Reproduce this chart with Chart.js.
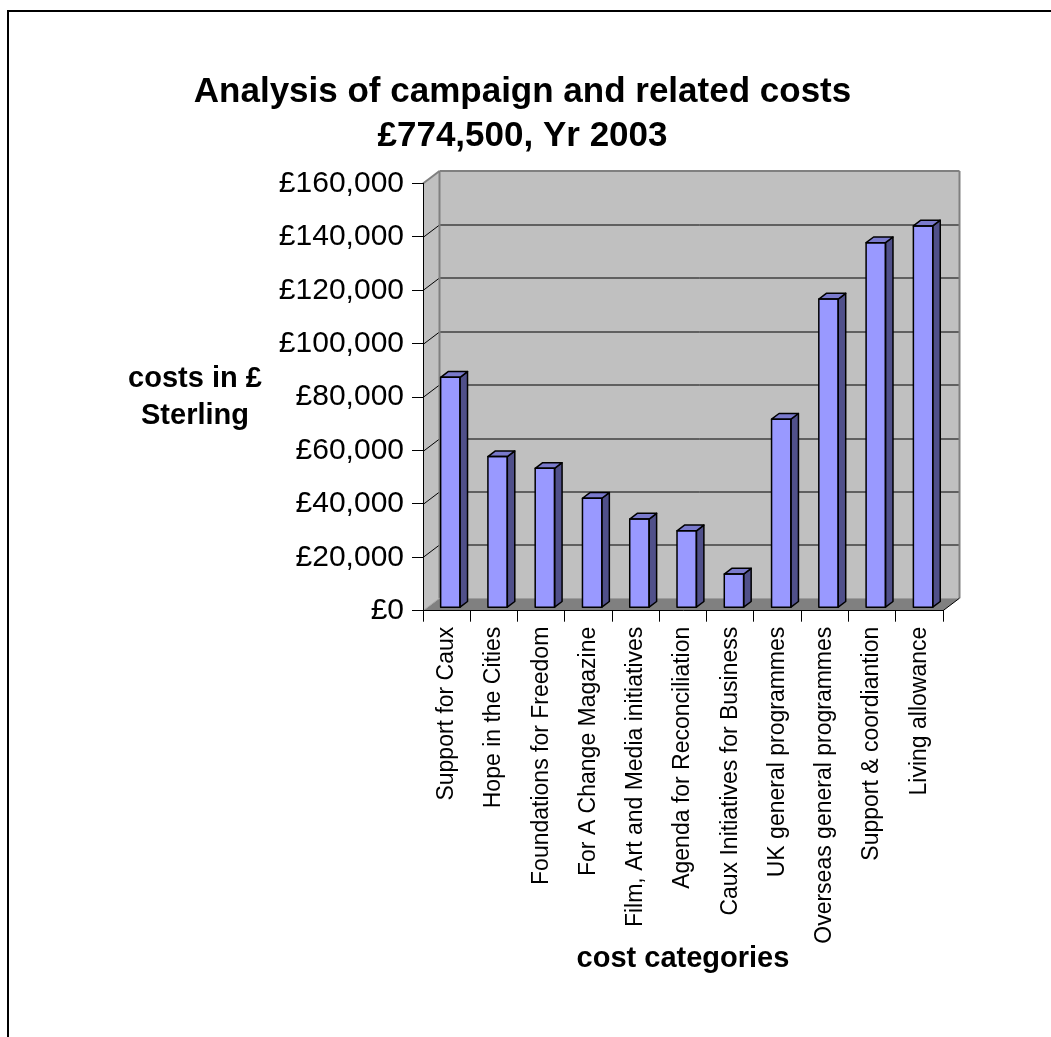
<!DOCTYPE html>
<html>
<head>
<meta charset="utf-8">
<script src="https://cdn.jsdelivr.net/npm/chart.js@4.4.0/dist/chart.umd.min.js"></script>
<style>
  html, body { margin: 0; padding: 0; background: #fff; }
</style>
</head>
<body>
<canvas id="grafico" width="1051" height="1037"></canvas>
<script>
// Data
const categories = [
  'Support for Caux',
  'Hope in the Cities',
  'Foundations for Freedom',
  'For A Change Magazine',
  'Film, Art and Media initiatives',
  'Agenda for Reconciliation',
  'Caux Initiatives for Business',
  'UK general programmes',
  'Overseas general programmes',
  'Support & coordiantion',
  'Living allowance'
];
const costs = [86300, 56600, 52200, 41000, 33200, 28800, 12600, 70600, 115600, 136700, 143000];
const yTickLabels = ['£0', '£20,000', '£40,000', '£60,000', '£80,000', '£100,000', '£120,000', '£140,000', '£160,000'];
const titleLines = ['Analysis of campaign and related costs', '£774,500, Yr 2003'];
const yTitleLines = ['costs in £', 'Sterling'];
const xTitle = 'cost categories';

const FONT = '"Liberation Sans", Arial, sans-serif';

// fake 3D: depth of the walls and of the columns
const DEPTH_X = 16.5, DEPTH_Y = -12.5;
const BAR_SHIFT_X = 3.7, BAR_SHIFT_Y = -3;
const BAR_DX = 7.5, BAR_DY = -5.7;

function poly(ctx, pts, fill, stroke, lw) {
  ctx.beginPath();
  ctx.moveTo(pts[0][0], pts[0][1]);
  for (let i = 1; i < pts.length; i++) ctx.lineTo(pts[i][0], pts[i][1]);
  ctx.closePath();
  if (fill) { ctx.fillStyle = fill; ctx.fill(); }
  if (stroke) { ctx.strokeStyle = stroke; ctx.lineWidth = lw || 1; ctx.stroke(); }
}

function line(ctx, x1, y1, x2, y2, color, lw) {
  ctx.beginPath();
  ctx.moveTo(x1, y1);
  ctx.lineTo(x2, y2);
  ctx.strokeStyle = color;
  ctx.lineWidth = lw || 1;
  ctx.stroke();
}

// walls, floor and back gridlines
const walls3d = {
  id: 'walls3d',
  beforeDraw(chart) {
    const ctx = chart.ctx;
    const { left: L, right: R, top: T, bottom: B } = chart.chartArea;
    const ys = chart.scales.y;
    ctx.save();

    // outer frame (only top and left are inside the picture)
    line(ctx, 8, 11, 1051, 11, '#000', 2);
    line(ctx, 8, 10, 8, 1037, '#000', 2);

    // side wall
    poly(ctx, [[L, B], [L, T], [L + DEPTH_X, T + DEPTH_Y], [L + DEPTH_X, B + DEPTH_Y]], '#c0c0c0');
    // back wall
    poly(ctx, [[L + DEPTH_X, T + DEPTH_Y], [R + DEPTH_X, T + DEPTH_Y], [R + DEPTH_X, B + DEPTH_Y], [L + DEPTH_X, B + DEPTH_Y]], '#c0c0c0');
    // floor
    poly(ctx, [[L, B], [R, B], [R + DEPTH_X, B + DEPTH_Y], [L + DEPTH_X, B + DEPTH_Y]], '#808080');

    // gridlines on the back wall and their run along the side wall
    ys.ticks.forEach(t => {
      if (t.value <= 0 || t.value >= ys.max) return;
      const y = Math.round(ys.getPixelForValue(t.value)) + 0.5;
      line(ctx, L + DEPTH_X, y + DEPTH_Y, R + DEPTH_X, y + DEPTH_Y, '#000', 1);
      line(ctx, L, y, L + DEPTH_X, y + DEPTH_Y, '#000', 1);
    });

    // wall edges
    line(ctx, L, T, L + DEPTH_X, T + DEPTH_Y, '#808080', 2);
    line(ctx, L + DEPTH_X, T + DEPTH_Y, R + DEPTH_X, T + DEPTH_Y, '#808080', 2);
    line(ctx, L + DEPTH_X, T + DEPTH_Y, L + DEPTH_X, B + DEPTH_Y, '#808080', 2);
    line(ctx, R + DEPTH_X, T + DEPTH_Y, R + DEPTH_X, B + DEPTH_Y, '#808080', 2);
    line(ctx, L, B, L + DEPTH_X, B + DEPTH_Y, '#a8a8a8', 1);
    line(ctx, R, B, R + DEPTH_X, B + DEPTH_Y, '#000', 1);
    ctx.restore();
  },
  beforeDatasetsDraw(chart) {
    chart.ctx.save();
    chart.ctx.translate(BAR_SHIFT_X, BAR_SHIFT_Y);
  },
  afterDatasetsDraw(chart) {
    const ctx = chart.ctx;
    ctx.restore();
    ctx.save();
    ctx.lineJoin = 'round';
    chart.getDatasetMeta(0).data.forEach(bar => {
      const { x, y, base, width } = bar.getProps(['x', 'y', 'base', 'width'], true);
      const l = x - width / 2 + BAR_SHIFT_X, r = x + width / 2 + BAR_SHIFT_X;
      const t = y + BAR_SHIFT_Y, b = base + BAR_SHIFT_Y;
      poly(ctx, [[r, b], [r + BAR_DX, b + BAR_DY], [r + BAR_DX, t + BAR_DY], [r, t]], '#50508a', '#000', 1.5);
      poly(ctx, [[l, t], [l + BAR_DX, t + BAR_DY], [r + BAR_DX, t + BAR_DY], [r, t]], '#7a7acc', '#000', 1.5);
      poly(ctx, [[l, b], [r, b], [r, t], [l, t]], null, '#000', 1.5);
    });
    ctx.restore();
  },
  afterDraw(chart) {
    const ctx = chart.ctx;
    ctx.save();
    ctx.fillStyle = '#000';
    ctx.textAlign = 'center';
    ctx.textBaseline = 'alphabetic';
    ctx.font = 'bold 35px ' + FONT;
    ctx.fillText(titleLines[0], 522.5, 102);
    ctx.fillText(titleLines[1], 522.5, 146);
    ctx.font = 'bold 29px ' + FONT;
    ctx.fillText(yTitleLines[0], 195, 387);
    ctx.fillText(yTitleLines[1], 195, 424);
    ctx.fillText(xTitle, 683, 967);
    ctx.restore();
  }
};

const ctx = document.getElementById('grafico').getContext('2d');
const chart = new Chart(ctx, {
  type: 'bar',
  data: {
    labels: categories,
    datasets: [{
      data: costs,
      backgroundColor: '#9999ff',
      borderColor: '#000',
      borderWidth: 0,
      barPercentage: 0.41,
      categoryPercentage: 1,
      clip: false
    }]
  },
  options: {
    responsive: false,
    animation: false,
    devicePixelRatio: 1,
    layout: { padding: { top: 183.5, left: 0, right: 108, bottom: 0 } },
    plugins: {
      legend: { display: false },
      tooltip: { enabled: false }
    },
    scales: {
      x: {
        grid: { drawOnChartArea: false, drawTicks: true, tickLength: 11, color: '#000', offset: true },
        border: { display: true, color: '#000', width: 1 },
        ticks: {
          minRotation: 90, maxRotation: 90, autoSkip: false, padding: 5,
          color: '#000', font: { family: FONT, size: 23 }
        },
        afterFit: s => { s.height = 1037 - 610.7; }
      },
      y: {
        min: 0,
        max: 160000,
        grid: { drawOnChartArea: false, drawTicks: true, tickLength: 11, color: '#000' },
        border: { display: true, color: '#000', width: 1 },
        ticks: {
          stepSize: 20000, padding: 8, color: '#000',
          font: { family: FONT, size: 30 },
          callback: (v, i) => yTickLabels[i]
        },
        afterFit: s => { s.width = 423; }
      }
    }
  },
  plugins: [walls3d]
});
</script>
</body>
</html>
